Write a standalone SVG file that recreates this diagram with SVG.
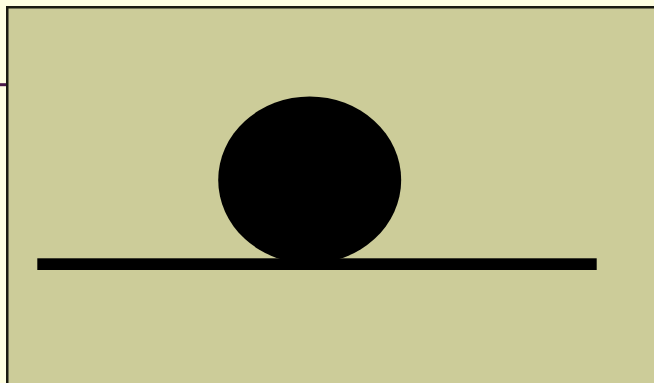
<svg xmlns="http://www.w3.org/2000/svg" width="654" height="383" viewBox="0 0 654 383">
  <defs>
    <style>
      .bg { fill: #FFFFE1; }
      .panel { fill: #CCCC99; stroke: #1a1a10; stroke-width: 2.5; }
      .shape { fill: #000000; }
    </style>
  </defs>
  <rect class="bg" x="0" y="0" width="654" height="383"/>
  <line x1="0" y1="84.7" x2="8" y2="84.7" stroke="#4A1848" stroke-width="3"/>
  <rect class="panel" x="7.25" y="7.25" width="700" height="420"/>
  <g id="ball">
    <ellipse class="shape" cx="309.7" cy="180" rx="91.5" ry="83.5"/>
  </g>
  <g id="ground">
    <rect class="shape" x="37.3" y="258.3" width="559.4" height="11.7"/>
  </g>
</svg>
